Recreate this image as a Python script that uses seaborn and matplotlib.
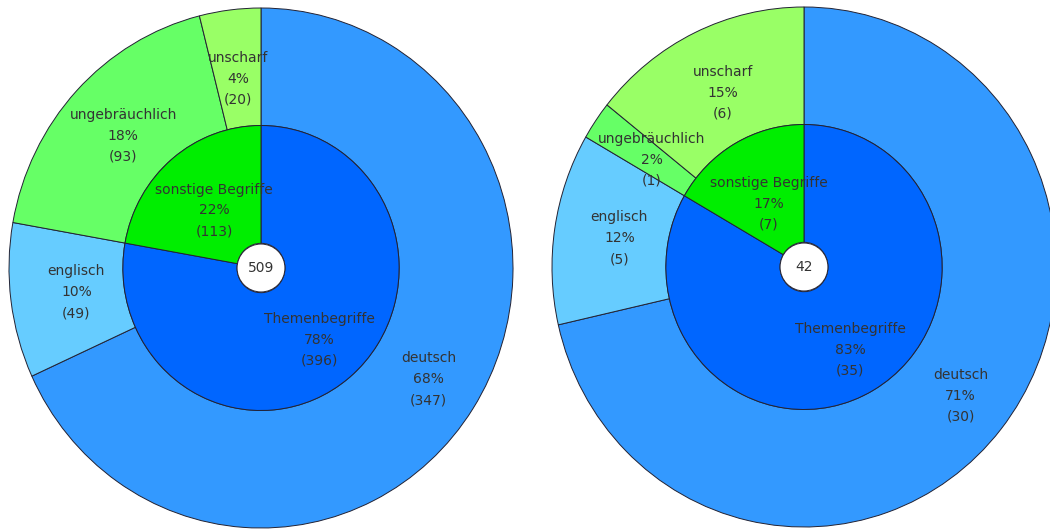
import numpy as np
import matplotlib
matplotlib.use('Agg')
from matplotlib import pyplot as plt
from matplotlib.patches import Ellipse
import seaborn as sns

sns.set_theme(style='white')
plt.rcParams['font.family'] = ['DejaVu Sans']

# Outer ring (language of the terms), inner ring (term type)
outer_labels = ['deutsch', 'englisch', 'ungebräuchlich', 'unscharf']
inner_labels = ['Themenbegriffe', 'sonstige Begriffe']

left_outer = [347, 49, 93, 20]
left_inner = [396, 113]
right_outer = [30, 5, 1, 6]
right_inner = [35, 7]

outer_colors = ['#3399FF', '#66CCFF', '#66FF66', '#99FF66']
inner_colors = ['#0066FF', '#00EE00']
text_color = '#333333'
edge_color = '#222233'

R_OUT = 1.0
R_IN = 0.548
R_HOLE = 0.095


def percents(values):
    # rounded shares, the last one takes up the rest to 100
    total = sum(values)
    pcts = [round(100 * v / total) for v in values[:-1]]
    return pcts + [100 - sum(pcts)]


def label_ring(ax, wedges, names, values, base, step):
    total = sum(values)
    for w, name, v, p in zip(wedges, names, values, percents(values)):
        share = v / total
        theta = np.deg2rad((w.theta1 + w.theta2) / 2)
        r = base + step * share
        ax.text(r * np.cos(theta), r * np.sin(theta),
                f'{name}\n{p}%\n({v})',
                ha='center', va='center', fontsize=10, color=text_color,
                linespacing=1.62)


def donut(ax, outer, inner):
    edge = dict(edgecolor=edge_color, linewidth=0.7)
    w_out, _ = ax.pie(outer, radius=R_OUT, colors=outer_colors, startangle=90,
                      counterclock=False, wedgeprops=dict(width=R_OUT - R_IN, **edge))
    w_in, _ = ax.pie(inner, radius=R_IN, colors=inner_colors, startangle=90,
                     counterclock=False, wedgeprops=dict(width=R_IN - R_HOLE, **edge))
    ax.add_patch(Ellipse((0, 0), 2 * R_HOLE, 2 * R_HOLE * 0.97, facecolor='white',
                         edgecolor=edge_color, linewidth=0.7, zorder=5))
    ax.text(0, 0, str(sum(inner)), ha='center', va='center', fontsize=10,
            color=text_color, zorder=6)
    label_ring(ax, w_out, outer_labels, outer, 0.73, 0.09)
    label_ring(ax, w_in, inner_labels, inner, 0.26, 0.13)
    ax.set_aspect('auto')
    ax.set_xlim(-1, 1)
    ax.set_ylim(-1, 1)
    ax.axis('off')


fig = plt.figure(figsize=(10.5, 5.29), dpi=100)
W, H = 1050, 529
rx, ry = 252, 260
for cx, cy_top, outer, inner in [(261, 268, left_outer, left_inner),
                                 (804, 267, right_outer, right_inner)]:
    cy = H - cy_top
    ax = fig.add_axes([(cx - rx) / W, (cy - ry) / H, 2 * rx / W, 2 * ry / H])
    donut(ax, outer, inner)
    for p in ax.patches:
        p.set_clip_on(False)

fig.savefig('out.png', dpi=100, facecolor='white')
